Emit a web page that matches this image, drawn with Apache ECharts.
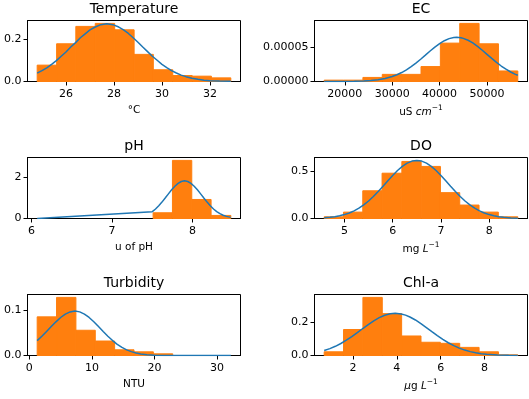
<!DOCTYPE html>
<html><head><meta charset="utf-8">
<script src="https://cdn.jsdelivr.net/npm/echarts@6/dist/echarts.min.js"></script>
<style>html,body{margin:0;padding:0;background:#fff}#c{width:529px;height:399px}</style>
</head><body><div id="c"></div>
<script>
// ---------- Temperature ----------
const tempEdges = [24.80, 25.61, 26.41, 27.22, 28.03, 28.84, 29.64, 30.45, 31.26, 32.06, 32.87];
const tempDensity = [0.0766, 0.1766, 0.258, 0.272, 0.242, 0.127, 0.055, 0.028, 0.025, 0.017];
const tempCurveX = [24.8, 25.0, 25.2, 25.4, 25.6, 25.8, 26.0, 26.2, 26.4, 26.6, 26.8, 27.0, 27.2, 27.45, 27.7, 27.95, 28.2, 28.4, 28.6, 28.8, 29.0, 29.2, 29.4, 29.6, 29.8, 30.0, 30.2, 30.4, 30.6, 30.8, 31.0, 31.25, 31.5, 31.75, 32.0, 32.4, 32.87];
const tempCurveY = [0.0389, 0.0509, 0.0639, 0.0804, 0.0975, 0.1182, 0.138, 0.1613, 0.182, 0.2047, 0.223, 0.2414, 0.254, 0.2662, 0.270, 0.2662, 0.255, 0.2414, 0.225, 0.2047, 0.184, 0.1613, 0.140, 0.1182, 0.0993, 0.0804, 0.0653, 0.0509, 0.0399, 0.0299, 0.0227, 0.0151, 0.0101, 0.0063, 0.0040, 0.0018, 0.0006];
const tempXTicks = [26, 28, 30, 32];
const tempYTicks = [0, 0.2];

// ---------- EC ----------
const ecEdges = [15650, 19735, 23820, 27905, 31990, 36075, 40160, 44245, 48330, 52415, 56500];
const ecDensity = [2e-6, 2e-6, 6e-6, 1.05e-5, 1.05e-5, 2.2e-5, 5.65e-5, 8.55e-5, 5.55e-5, 1.55e-5];
const ecCurveX = [15650, 20000, 22000, 24000, 25500, 27000, 28500, 30000, 31000, 32000, 33000, 34000, 35000, 36000, 37000, 38000, 39000, 40000, 41000, 42000, 43000, 43600, 44500, 45000, 46000, 47000, 48000, 49000, 50000, 51000, 52000, 53000, 54000, 55000, 56000, 56500];
const ecCurveY = [0, 8.9e-8, 2.6e-7, 6.9e-7, 1.35e-6, 2.49e-6, 4.37e-6, 7.3e-6, 9.93e-6, 1.32e-5, 1.72e-5, 2.18e-5, 2.71e-5, 3.28e-5, 3.88e-5, 4.49e-5, 5.06e-5, 5.58e-5, 6.0e-5, 6.31e-5, 6.47e-5, 6.5e-5, 6.44e-5, 6.35e-5, 6.07e-5, 5.67e-5, 5.17e-5, 4.60e-5, 4.0e-5, 3.40e-5, 2.82e-5, 2.28e-5, 1.81e-5, 1.40e-5, 1.05e-5, 9.1e-6];
const ecXTicks = [20000, 30000, 40000, 50000];
const ecYTicks = [0, 0.00005];

// ---------- pH ----------
const phEdges = [6.07, 6.31, 6.55, 6.79, 7.03, 7.27, 7.51, 7.75, 7.99, 8.23, 8.475];
const phDensity = [0, 0, 0, 0, 0, 0, 0.28, 2.84, 0.93, 0.15];
const phCurveX = [6.07, 7.50, 7.54, 7.58, 7.62, 7.66, 7.70, 7.74, 7.78, 7.82, 7.86, 7.90, 7.94, 7.98, 8.02, 8.06, 8.10, 8.14, 8.18, 8.22, 8.26, 8.30, 8.34, 8.38, 8.42, 8.475];
const phCurveY = [0.003, 0.336, 0.465, 0.620, 0.801, 0.999, 1.203, 1.402, 1.579, 1.719, 1.809, 1.84, 1.809, 1.719, 1.579, 1.402, 1.203, 0.999, 0.801, 0.620, 0.465, 0.336, 0.236, 0.159, 0.104, 0.055];
const phXTicks = [6, 7, 8];
const phYTicks = [0, 2];

// ---------- DO ----------
const doEdges = [4.58, 4.98, 5.38, 5.78, 6.19, 6.59, 6.99, 7.39, 7.79, 8.19, 8.594];
const doDensity = [0.018, 0.068, 0.295, 0.482, 0.607, 0.554, 0.275, 0.143, 0.068, 0.018];
const doCurveX = [4.58, 4.7, 4.8, 4.9, 5.0, 5.1, 5.2, 5.3, 5.4, 5.5, 5.6, 5.7, 5.8, 5.9, 6.0, 6.1, 6.2, 6.3, 6.4, 6.5, 6.6, 6.7, 6.8, 6.9, 7.0, 7.1, 7.2, 7.3, 7.4, 7.5, 7.6, 7.7, 7.8, 7.9, 8.0, 8.1, 8.2, 8.3, 8.45, 8.594];
const doCurveY = [0.0074, 0.0127, 0.0193, 0.0286, 0.0415, 0.0588, 0.0813, 0.1098, 0.1446, 0.186, 0.2338, 0.2867, 0.343, 0.401, 0.458, 0.510, 0.5547, 0.589, 0.6106, 0.618, 0.6106, 0.589, 0.5547, 0.510, 0.458, 0.401, 0.343, 0.2867, 0.2338, 0.186, 0.1446, 0.1098, 0.0813, 0.0588, 0.0415, 0.0286, 0.0193, 0.0127, 0.0064, 0.0032];
const doXTicks = [5, 6, 7, 8];
const doYTicks = [0, 0.5];

// ---------- Turbidity ----------
const turbEdges = [1.25, 4.345, 7.44, 10.535, 13.63, 16.725, 19.82, 22.915, 26.01, 29.105, 32.2];
const turbDensity = [0.0852, 0.128, 0.0556, 0.0319, 0.0126, 0.0081, 0.0037, 0, 0, 0];
const turbCurveX = [1.25, 2.0, 2.75, 3.5, 4.25, 5.0, 5.75, 6.5, 7.28, 8.05, 8.8, 9.55, 10.3, 11.05, 11.8, 12.55, 13.3, 14.05, 14.8, 15.55, 16.3, 17.05, 17.8, 18.8, 20.0, 21.5, 23.0, 26.0, 32.2];
const turbCurveY = [0.0328, 0.0423, 0.0528, 0.0637, 0.0742, 0.0837, 0.0912, 0.0960, 0.0978, 0.0961, 0.0912, 0.0838, 0.0744, 0.0638, 0.0530, 0.0425, 0.0329, 0.0247, 0.0179, 0.0125, 0.0085, 0.0056, 0.0035, 0.0018, 0.00076, 0.00023, 0.00006, 0, 0];
const turbXTicks = [0, 10, 20, 30];
const turbYTicks = [0, 0.1];

// ---------- Chl-a ----------
const chlEdges = [0.69, 1.573, 2.456, 3.339, 4.222, 5.105, 5.988, 6.871, 7.754, 8.637, 9.52];
const chlDensity = [0.0224, 0.157, 0.351, 0.253, 0.118, 0.080, 0.0735, 0.049, 0.0224, 0.004];
const chlCurveX = [0.69, 0.95, 1.2, 1.45, 1.7, 1.95, 2.2, 2.45, 2.7, 2.95, 3.2, 3.45, 3.7, 3.93, 4.2, 4.4, 4.6, 4.85, 5.1, 5.35, 5.6, 5.85, 6.1, 6.35, 6.6, 6.85, 7.1, 7.35, 7.6, 7.85, 8.1, 8.6, 9.1, 9.52];
const chlCurveY = [0.0298, 0.0415, 0.0556, 0.0726, 0.0923, 0.1145, 0.1383, 0.163, 0.187, 0.2096, 0.229, 0.2433, 0.2523, 0.255, 0.2512, 0.2438, 0.2326, 0.2145, 0.1928, 0.1689, 0.1442, 0.1201, 0.0974, 0.0771, 0.0594, 0.0447, 0.0327, 0.0234, 0.0163, 0.0110, 0.0073, 0.0030, 0.0011, 0.0004];
const chlXTicks = [2, 4, 6, 8];
const chlYTicks = [0, 0.2];

const titles = ['Temperature', 'EC', 'pH', 'DO', 'Turbidity', 'Chl-a'];
const xNames = ['°C', 'uS {i|cm}{sup|−1}', 'u of pH', 'mg {i|L}{sup|−1}', 'NTU', '{i|μ}g {i|L}{sup|−1}'];
const yDecimals = [1, 5, 0, 1, 1, 1];

const panels = [
  [tempEdges, tempDensity, tempCurveX, tempCurveY, tempXTicks, tempYTicks],
  [ecEdges, ecDensity, ecCurveX, ecCurveY, ecXTicks, ecYTicks],
  [phEdges, phDensity, phCurveX, phCurveY, phXTicks, phYTicks],
  [doEdges, doDensity, doCurveX, doCurveY, doXTicks, doYTicks],
  [turbEdges, turbDensity, turbCurveX, turbCurveY, turbXTicks, turbYTicks],
  [chlEdges, chlDensity, chlCurveX, chlCurveY, chlXTicks, chlYTicks]
];

const FONT = 'DejaVu Sans';
const colLeft = [27.5, 314.5];
const rowTop = [20.5, 157.5, 294.5];
const W = 213, H = 61;

const grids = [], xAxes = [], yAxes = [], series = [], titleComps = [];
panels.forEach((p, i) => {
  const [edges, dens, cx, cy, xt, yt] = p;
  const col = i % 2, row = Math.floor(i / 2);
  const lo = edges[0], hi = edges[edges.length - 1];
  const pad = (hi - lo) * 0.05;
  const ymax = Math.max(Math.max(...dens), Math.max(...cy)) * 1.05;
  grids.push({left: colLeft[col], top: rowTop[row], width: W, height: H,
    show: true, borderColor: '#000', borderWidth: 1, backgroundColor: 'transparent'});
  titleComps.push({text: titles[i], left: colLeft[col] + W / 2, top: rowTop[row] - 18,
    textAlign: 'center', padding: 0,
    textStyle: {fontFamily: FONT, fontSize: 14, fontWeight: 'normal', color: '#000'}});
  xAxes.push({type: 'value', gridIndex: i, min: lo - pad, max: hi + pad,
    axisLine: {show: true, onZero: false, lineStyle: {color: '#000', width: 1}},
    splitLine: {show: false},
    axisTick: {show: true, length: 4, lineStyle: {color: '#000'}, customValues: xt},
    axisLabel: {customValues: xt, color: '#000', fontFamily: FONT, fontSize: 11, margin: 7,
      formatter: v => String(v)},
    name: xNames[i], nameLocation: 'middle', nameGap: 23,
    nameTextStyle: {color: '#000', fontFamily: FONT, fontSize: 10.5,
      rich: {i: {fontStyle: 'italic', fontFamily: FONT, fontSize: 10.5, color: '#000'},
             sup: {fontFamily: FONT, fontSize: 7.5, color: '#000', padding: [0, 0, 7, 0]}}}
  });
  const dec = yDecimals[i];
  yAxes.push({type: 'value', gridIndex: i, min: 0, max: ymax,
    axisLine: {show: true, onZero: false, lineStyle: {color: '#000', width: 1}},
    splitLine: {show: false},
    axisTick: {show: true, length: 4, lineStyle: {color: '#000'}, customValues: yt},
    axisLabel: {customValues: yt, color: '#000', fontFamily: FONT, fontSize: 11, margin: 6,
      formatter: v => Number(v).toFixed(dec)}
  });
  const bars = dens.map((d, k) => [edges[k], edges[k + 1], d]);
  series.push({type: 'custom', xAxisIndex: i, yAxisIndex: i, data: bars,
    dimensions: ['x0', 'x1', 'h'], encode: {x: [0, 1], y: 2}, z: 2,
    renderItem: (params, api) => {
      if (api.value(2) <= 0) return null;
      const a = api.coord([api.value(0), api.value(2)]);
      const b = api.coord([api.value(1), 0]);
      return {type: 'rect', shape: {x: a[0], y: a[1], width: b[0] - a[0], height: b[1] - a[1]},
        style: {fill: '#ff7f0e', stroke: '#ff7f0e', lineWidth: 1}};
    }});
  series.push({type: 'line', xAxisIndex: i, yAxisIndex: i, z: 3,
    data: cx.map((x, k) => [x, cy[k]]), showSymbol: false, symbol: 'none', smooth: false,
    lineStyle: {color: '#1f77b4', width: 1.5}});
});

const chart = echarts.init(document.getElementById('c'), null, {renderer: 'canvas'});
chart.setOption({animation: false, backgroundColor: '#fff', title: titleComps,
  grid: grids, xAxis: xAxes, yAxis: yAxes, series: series});
</script></body></html>
